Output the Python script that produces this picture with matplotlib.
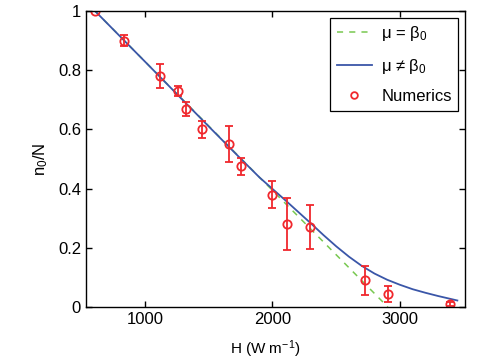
import matplotlib
matplotlib.use("Agg")
import matplotlib.pyplot as plt

# numerics (H in W m^-1, n0/N, error)
H_num = [608, 838, 1118, 1261, 1322, 1447, 1661, 1753, 1994, 2116, 2294, 2725, 2908, 3392]
n_num = [1.0, 0.90, 0.78, 0.73, 0.67, 0.60, 0.55, 0.475, 0.38, 0.28, 0.27, 0.09, 0.044, 0.01]
n_err = [0.0, 0.02, 0.041, 0.016, 0.024, 0.028, 0.061, 0.028, 0.047, 0.087, 0.073, 0.049, 0.028, 0.006]

# mu = beta_0 (linear)
H_lin = [608, 2905]
n_lin = [1.0, 0.0]

# mu != beta_0
H_curve = [608, 1000, 1500, 1700, 1900, 2000, 2100, 2200, 2300, 2400, 2500, 2600,
           2700, 2800, 2900, 3000, 3100, 3200, 3300, 3400, 3450]
n_curve = [1.0, 0.829, 0.61, 0.523, 0.437, 0.399, 0.361, 0.322, 0.283, 0.243, 0.205, 0.17,
           0.139, 0.113, 0.092, 0.075, 0.06, 0.048, 0.037, 0.027, 0.022]

plt.rcParams['font.family'] = ['Liberation Sans', 'DejaVu Sans']
plt.rcParams['mathtext.default'] = 'regular'
plt.rcParams['font.size'] = 12

red = '#f0282d'
blue = '#3a56a8'
green = '#78c850'

fig = plt.figure(figsize=(4.91, 3.61), dpi=100)
ax = fig.add_axes([0.175, 0.1496, 0.772, 0.82])

ax.plot(H_lin, n_lin, '--', color=green, lw=1.1, dashes=(4, 4), label=r'μ = β$_0$')
ax.plot(H_curve, n_curve, '-', color=blue, lw=1.3, label=r'μ ≠ β$_0$')
ax.errorbar(H_num, n_num, yerr=n_err, fmt='none', ecolor=red, elinewidth=1.3, capsize=3, capthick=1.3)
ax.plot(H_num, n_num, 'o', mfc='none', mec=red, mew=1.3, ms=6, ls='none', label='Numerics')

ax.set_xlim(537, 3510)
ax.set_ylim(0, 1)
ax.set_xticks([1000, 2000, 3000])
ax.set_yticks([0, 0.2, 0.4, 0.6, 0.8, 1.0])
ax.set_yticklabels(['0', '0.2', '0.4', '0.6', '0.8', '1'])
ax.tick_params(direction='in', top=True, right=True, length=4, width=1, labelsize=12)
for s in ax.spines.values():
    s.set_linewidth(1)

ax.set_xlabel(r'H (W m$^{-1}$)', fontsize=11)
ax.xaxis.set_label_coords(0.472, -0.105)
ax.set_ylabel(r'n$_0$/N', fontsize=12, labelpad=6)

leg = ax.legend(loc='upper right', fontsize=12, frameon=True, fancybox=False,
                edgecolor='black', framealpha=1, borderaxespad=0.4, markerscale=0.8,
                handlelength=2.1, handletextpad=0.55, borderpad=0.4, labelspacing=0.8)
leg.get_frame().set_linewidth(0.9)

fig.savefig('out.png', dpi=100)
